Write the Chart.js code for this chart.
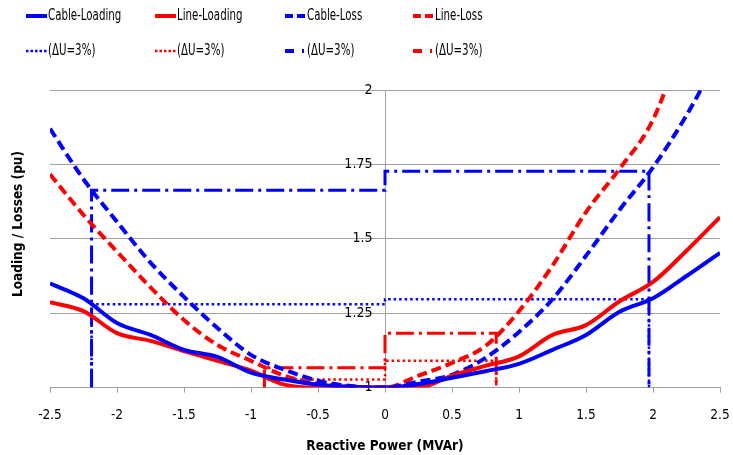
<!DOCTYPE html>
<html>
<head>
<meta charset="utf-8">
<script src="https://cdn.jsdelivr.net/npm/chart.js@4.4.0/dist/chart.umd.min.js"></script>
<style>
body { margin: 0; background: #fff; }
#wrap { width: 733px; height: 455px; }
</style>
</head>
<body>
<div id="wrap"><canvas id="chartArea"></canvas></div>
<script>
// x축 (Reactive Power, MVAr)
var xVals = [-2.5, -2.25, -2, -1.75, -1.5, -1.25, -1, -0.75, -0.5, -0.25, 0,
	0.25, 0.5, 0.75, 1, 1.25, 1.5, 1.75, 2, 2.25, 2.5];

// 곡선 데이터 (pu)
var cableLoading = [1.35, 1.30, 1.217, 1.177, 1.127, 1.103, 1.05, 1.027, 1.01, 1.003, 1.0,
	1.012, 1.033, 1.055, 1.08, 1.127, 1.177, 1.255, 1.30, 1.375, 1.453];
var lineLoading = [1.287, 1.257, 1.183, 1.157, 1.123, 1.09, 1.057, 1.01, 1.0, 1.0, 1.0,
	1.0, 1.04, 1.073, 1.105, 1.177, 1.21, 1.29, 1.355, 1.46, 1.573];
var cableLoss = [1.87, 1.70, 1.557, 1.42, 1.305, 1.20, 1.11, 1.06, 1.023, 1.005, 1.0,
	1.02, 1.043, 1.10, 1.187, 1.297, 1.443, 1.597, 1.74, 1.915, 2.12];
var lineLoss = [1.717, 1.58, 1.457, 1.337, 1.227, 1.143, 1.09, 1.04, 1.013, 1.003, 1.0,
	1.04, 1.083, 1.14, 1.257, 1.41, 1.59, 1.735, 1.90, 2.2, 2.5];

// ΔU=3% 표시선
var cableDuX = [-2.19, -2.19, 0, 0, 1.97, 1.97];
var cableDotY = [1, 1.28, 1.28, 1.297, 1.297, 1];
var cableDashDotY = [1, 1.663, 1.663, 1.727, 1.727, 1];
var lineDuX = [-0.9, -0.9, 0, 0, 0.83, 0.83];
var lineDotY = [1, 1.027, 1.027, 1.09, 1.09, 1];
var lineDashDotY = [1, 1.067, 1.067, 1.183, 1.183, 1];

// x축 / y축 눈금
var xTicks = [-2.5, -2, -1.5, -1, -0.5, 0, 0.5, 1, 1.5, 2, 2.5];
var yTicks = [1, 1.25, 1.5, 1.75, 2];

var FONT = '"DejaVu Sans Condensed", "DejaVu Sans", sans-serif';

function pts(xs, ys) {
	var out = [];
	for (var i = 0; i < xs.length; i++) {
		out.push({ x: xs[i], y: ys[i] });
	}
	return out;
}

// 범례 4칸 x 2줄 + y축 제목 직접 그리기
var legendPlugin = {
	id: 'topLegend',
	afterDraw: function(chart) {
		var ctx = chart.ctx;
		var cols = [26, 155, 285, 413];
		var rows = [16, 51];
		chart.data.datasets.forEach(function(ds, i) {
			var x = cols[i % 4];
			var y = rows[Math.floor(i / 4)];
			ctx.save();
			ctx.strokeStyle = ds.borderColor;
			ctx.lineWidth = ds.legendWidth;
			ctx.setLineDash(ds.legendDash);
			ctx.beginPath();
			ctx.moveTo(x, y);
			ctx.lineTo(x + 21, y);
			ctx.stroke();
			ctx.setLineDash([]);
			ctx.fillStyle = '#000';
			ctx.font = '15px ' + FONT;
			ctx.textBaseline = 'middle';
			ctx.translate(x + 22, y);
			ctx.scale(0.76, 1);
			ctx.fillText(ds.label, 0, 0);
			ctx.restore();
		});

		// y축 제목
		ctx.save();
		ctx.translate(18, 224);
		ctx.rotate(-Math.PI / 2);
		ctx.fillStyle = '#000';
		ctx.font = 'bold 13.5px ' + FONT;
		ctx.textAlign = 'center';
		ctx.textBaseline = 'middle';
		ctx.fillText('Loading / Losses (pu)', 0, 0);
		ctx.restore();
	}
};

var ctx = document.getElementById('chartArea');
var myChart = new Chart(ctx, {
	type: 'line',
	data: {
		datasets: [
			{ label: 'Cable-Loading', data: pts(xVals, cableLoading), borderColor: '#0000ff',
				borderWidth: 4, legendWidth: 4, legendDash: [] },
			{ label: 'Line-Loading', data: pts(xVals, lineLoading), borderColor: '#ff0000',
				borderWidth: 4, legendWidth: 4, legendDash: [] },
			{ label: 'Cable-Loss', data: pts(xVals, cableLoss), borderColor: '#0000ff',
				borderWidth: 4, borderDash: [10, 5], legendWidth: 4, legendDash: [8, 4] },
			{ label: 'Line-Loss', data: pts(xVals, lineLoss), borderColor: '#ff0000',
				borderWidth: 4, borderDash: [10, 5], legendWidth: 4, legendDash: [8, 4] },
			{ label: '(ΔU=3%)', data: pts(cableDuX, cableDotY), borderColor: '#0000ff',
				borderWidth: 2.5, borderDash: [2.5, 3], tension: 0, legendWidth: 2.5, legendDash: [2.5, 2] },
			{ label: '(ΔU=3%)', data: pts(lineDuX, lineDotY), borderColor: '#ff0000',
				borderWidth: 2.5, borderDash: [2.5, 3], tension: 0, legendWidth: 2.5, legendDash: [2.5, 2] },
			{ label: '(ΔU=3%)', data: pts(cableDuX, cableDashDotY), borderColor: '#0000ff',
				borderWidth: 3, borderDash: [18, 5, 3, 5], tension: 0, legendWidth: 4, legendDash: [9, 8, 2, 10] },
			{ label: '(ΔU=3%)', data: pts(lineDuX, lineDashDotY), borderColor: '#ff0000',
				borderWidth: 3, borderDash: [18, 5, 3, 5], tension: 0, legendWidth: 4, legendDash: [9, 8, 2, 10] }
		]
	},
	options: {
		responsive: true,
		maintainAspectRatio: false,
		animation: false,
		layout: { padding: { top: 90, left: 50, right: 13, bottom: 0 } },
		elements: {
			point: { radius: 0, hoverRadius: 0 },
			line: { tension: 0.4, cubicInterpolationMode: 'monotone', fill: false }
		},
		plugins: {
			legend: { display: false },
			tooltip: { enabled: false }
		},
		scales: {
			x: {
				type: 'linear',
				min: -2.5,
				max: 2.5,
				afterBuildTicks: function(axis) {
					axis.ticks = xTicks.map(function(v) { return { value: v }; });
				},
				// 라벨 간격 때문에 오른쪽 여백이 커지는 것 방지
				afterFit: function(axis) {
					axis.paddingRight = 10;
				},
				grid: { drawOnChartArea: false, color: '#a0a0a0', tickLength: 5 },
				border: { color: '#a0a0a0' },
				ticks: {
					color: '#000', font: { size: 13.5, family: FONT }, padding: 15, maxRotation: 0,
					callback: function(v) { return String(v); }
				},
				title: { display: true, text: 'Reactive Power (MVAr)', color: '#000',
					font: { size: 13.5, weight: 'bold', family: FONT }, padding: { top: 0, bottom: 0 } }
			},
			y: {
				type: 'linear',
				position: { x: 0 },
				min: 1,
				max: 2,
				afterBuildTicks: function(axis) {
					axis.ticks = yTicks.map(function(v) { return { value: v }; });
				},
				grid: { color: '#a0a0a0', drawTicks: false },
				border: { color: '#a0a0a0' },
				ticks: {
					color: '#000', font: { size: 14, family: FONT },
					callback: function(v) { return String(v) + '\u2002\u2002'; }
				}
			}
		}
	},
	plugins: [legendPlugin]
});
</script>
</body>
</html>
